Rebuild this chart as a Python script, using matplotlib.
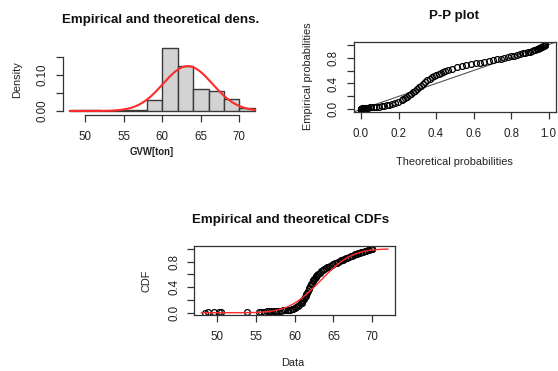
import math
import numpy as np
import matplotlib
matplotlib.use("Agg")
import matplotlib.pyplot as plt

plt.rcParams["font.family"] = ["Liberation Sans", "DejaVu Sans"]

# Histogram of gross vehicle weight (density scale)
hist_edges = [48, 50, 52, 54, 56, 58, 60, 62, 64, 66, 68, 70, 72]
hist_density = [0.002, 0.003, 0.001, 0.002, 0.003, 0.030, 0.175, 0.125,
                0.060, 0.056, 0.033, 0.007]

# Fitted normal distribution
fit_mean = 63.3
fit_sd = 3.2

# Empirical CDF points (sorted weights and cumulative proportions)
ecdf_x = [48.5, 48.9, 49.6, 50.2, 50.5, 53.9, 55.4, 55.7, 56.1, 56.4, 56.7,
          57.0, 57.3, 57.6, 57.9, 58.2, 58.5, 58.8, 59.1, 59.4, 59.6, 59.8,
          60.0, 60.2, 60.4, 60.6, 60.8, 60.9, 61.0, 61.1, 61.2, 61.3, 61.4,
          61.5, 61.6, 61.7, 61.8, 61.9, 62.0, 62.1, 62.2, 62.3, 62.4, 62.5,
          62.6, 62.7, 62.8, 62.9, 63.0, 63.2, 63.4, 63.6, 63.8, 64.0, 64.2,
          64.4, 64.6, 64.8, 65.0, 65.2, 65.4, 65.6, 65.8, 66.0, 66.2, 66.4,
          66.6, 66.8, 67.0, 67.2, 67.4, 67.6, 67.8, 68.0, 68.2, 68.4, 68.6,
          68.8, 69.0, 69.2, 69.4, 69.6, 69.8, 69.9, 70.0]
ecdf_p = [0.002, 0.004, 0.006, 0.008, 0.010, 0.012, 0.014, 0.016, 0.018,
          0.020, 0.022, 0.024, 0.026, 0.028, 0.030, 0.033, 0.036, 0.040,
          0.044, 0.050, 0.055, 0.062, 0.072, 0.085, 0.100, 0.120, 0.145,
          0.160, 0.177, 0.196, 0.217, 0.240, 0.264, 0.289, 0.315, 0.341,
          0.367, 0.395, 0.420, 0.446, 0.470, 0.493, 0.514, 0.533, 0.550,
          0.566, 0.580, 0.593, 0.605, 0.628, 0.647, 0.664, 0.680, 0.695,
          0.709, 0.722, 0.735, 0.748, 0.760, 0.772, 0.784, 0.796, 0.808,
          0.820, 0.831, 0.842, 0.853, 0.863, 0.873, 0.883, 0.893, 0.903,
          0.912, 0.921, 0.930, 0.938, 0.946, 0.954, 0.962, 0.969, 0.976,
          0.983, 0.990, 0.995, 1.000]

W, H = 558, 371
fig = plt.figure(figsize=(W / 100, H / 100), dpi=100)
fig.patch.set_facecolor("white")

TXT = "#222222"
AX = "#333333"
TICK_FS = 8.3
LAB_FS = 7.9
TITLE_FS = 9.6


def axes_px(left, top, right, bottom):
    return fig.add_axes([left / W, 1 - bottom / H, (right - left) / W,
                         (bottom - top) / H])


def ftext(x, y, s, color=TXT, **kw):
    fig.text(x / W, 1 - y / H, s, ha="center", va="center", color=color, **kw)


def norm_pdf(x):
    return np.exp(-0.5 * ((x - fit_mean) / fit_sd) ** 2) / (fit_sd * math.sqrt(2 * math.pi))


def norm_cdf(x):
    x = np.asarray(x, dtype=float)
    return 0.5 * (1 + np.vectorize(math.erf)((x - fit_mean) / (fit_sd * math.sqrt(2))))


def style_ticks(ax, xt, xl, yt, yl, box):
    ax.set_xticks(xt)
    ax.set_xticklabels(xl)
    ax.set_yticks(yt)
    ax.set_yticklabels(yl, rotation=90, va="center")
    ax.tick_params(axis="both", direction="out", length=5, width=0.9,
                   color=AX, labelcolor=TXT, labelsize=TICK_FS)
    ax.tick_params(axis="x", pad=6.6)
    ax.tick_params(axis="y", pad=4.8)
    for s in ax.spines.values():
        s.set_color(AX)
        s.set_linewidth(0.9)
    if not box:
        ax.spines["top"].set_visible(False)
        ax.spines["right"].set_visible(False)


# --- Histogram with fitted density ---
ax1 = axes_px(62.5, 45.5, 262.1, 115)
ax1.set_xlim(47.04, 72.96)
ax1.set_ylim(-0.0111, 0.182)
widths = np.diff(hist_edges)
ax1.bar(hist_edges[:-1], hist_density, width=widths, align="edge",
        color="#d3d3d3", edgecolor="#3a3a3a", linewidth=1.0)
xs = np.linspace(hist_edges[0], hist_edges[-1], 300)
ax1.plot(xs, norm_pdf(xs), color="#ff2a2a", lw=1.5)
style_ticks(ax1, [50, 55, 60, 65, 70], ["50", "55", "60", "65", "70"],
            [0, 0.05, 0.10, 0.15], ["0.00", "", "0.10", ""], box=False)
ax1.spines["bottom"].set_bounds(50, 70)
ax1.spines["left"].set_bounds(0, 0.15)
ax1.patch.set_alpha(0)
ftext(161, 20, "Empirical and theoretical dens.", fontsize=TITLE_FS, fontweight="bold", color="#111111")
ftext(16.7, 79.5, "Density", fontsize=LAB_FS, rotation=90)
ftext(152, 152, "GVW[ton]", fontsize=6.9, fontweight="bold")

# --- P-P plot ---
ax2 = axes_px(353.5, 42, 556, 112)
ax2.set_xlim(-0.04, 1.04)
ax2.set_ylim(-0.04, 1.04)
theo_p = norm_cdf(ecdf_x)
ax2.axline((0, 0), (1, 1), color="#555555", lw=0.8)
ax2.plot(theo_p, ecdf_p, "o", mfc="none", mec="black", ms=4.2, mew=0.9)
ticks = [0, 0.2, 0.4, 0.6, 0.8, 1.0]
style_ticks(ax2, ticks, ["0.0", "0.2", "0.4", "0.6", "0.8", "1.0"],
            ticks, ["0.0", "", "0.4", "", "0.8", ""], box=True)
ftext(454, 16, "P-P plot", fontsize=TITLE_FS, fontweight="bold", color="#111111")
ftext(454, 161.7, "Theoretical probabilities", fontsize=LAB_FS)
ftext(308, 76, "Empirical probabilities", fontsize=LAB_FS, rotation=90)

# --- Empirical and theoretical CDFs ---
ax3 = axes_px(194, 246.3, 395.3, 315.3)
ax3.set_xlim(47.04, 72.96)
ax3.set_ylim(-0.04, 1.04)
ax3.plot(ecdf_x, ecdf_p, "o", mfc="none", mec="black", ms=4.2, mew=0.9)
xc = np.linspace(48, 72, 300)
ax3.plot(xc, norm_cdf(xc), color="#ff2a2a", lw=1.0)
style_ticks(ax3, [50, 55, 60, 65, 70], ["50", "55", "60", "65", "70"],
            ticks, ["0.0", "", "0.4", "", "0.8", ""], box=True)
ftext(291, 220.5, "Empirical and theoretical CDFs", fontsize=TITLE_FS, fontweight="bold", color="#111111")
ftext(293, 363, "Data", fontsize=LAB_FS)
ftext(146, 281, "CDF", fontsize=LAB_FS, rotation=90)

fig.savefig("out.png", dpi=100, facecolor="white")
